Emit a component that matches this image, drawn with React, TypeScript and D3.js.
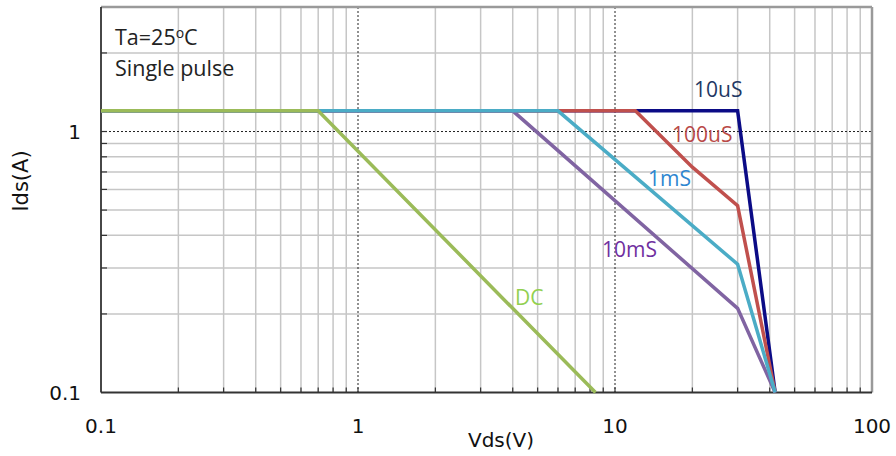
import React from 'react';
import * as d3 from 'd3';

// safe operating area curves, Vds (V) / Ids (A)
const dcV = [0.1, 0.7, 8.4];
const dcI = [1.2, 1.2, 0.1];
const ms10V = [0.1, 4, 30, 42];
const ms10I = [1.2, 1.2, 0.21, 0.1];
const ms1V = [0.1, 6, 30, 42];
const ms1I = [1.2, 1.2, 0.31, 0.1];
const us100V = [0.1, 12, 20, 30, 42];
const us100I = [1.2, 1.2, 0.73, 0.52, 0.1];
const us10V = [0.1, 30, 42];
const us10I = [1.2, 1.2, 0.1];

const xTickLabels = ['0.1', '1', '10', '100'];
const yTickLabels = ['0.1', '1'];

const W = 896;
const H = 456;

const x = d3.scaleLog().domain([0.1, 100]).range([101, 872]);
const y = d3.scaleLog().domain([0.1, 3]).range([392.5, 7]);

const xMinor: number[] = [];
[0.1, 1, 10].forEach(d => {
  for (let k = 2; k <= 9; k++) xMinor.push(d * k);
});
const yMinor = [0.2, 0.3, 0.4, 0.5, 0.6, 0.7, 0.8, 0.9, 2];

const series = [
  { name: '10uS', v: us10V, i: us10I, color: '#0b0b86' },
  { name: '100uS', v: us100V, i: us100I, color: '#c0504d' },
  { name: '10mS', v: ms10V, i: ms10I, color: '#8064a2' },
  { name: '1mS', v: ms1V, i: ms1I, color: '#4bacc6' },
  { name: 'DC', v: dcV, i: dcI, color: '#9bbb59' },
];

const labels = [
  { text: '10uS', x: 694, y: 97, color: '#1f3864' },
  { text: '100uS', x: 672, y: 142, color: '#b94a48' },
  { text: '1mS', x: 648, y: 186, color: '#2e86d0' },
  { text: '10mS', x: 602, y: 257, color: '#7030a0' },
  { text: 'DC', x: 515, y: 305, color: '#92d050' },
];

const line = d3
  .line<[number, number]>()
  .x(d => x(d[0]))
  .y(d => y(d[1]));

export default function App() {
  const [x0, x1] = x.range();
  const [y0, y1] = y.range();
  const axisFont = '"DejaVu Sans", Verdana, sans-serif';
  const noteFont = '"Open Sans", "Noto Sans", sans-serif';

  return (
    <svg
      width={W}
      height={H}
      style={{ position: 'absolute', left: 0, top: 0, background: '#fff' }}
    >
      {/* minor grid */}
      {xMinor.map(d => (
        <line key={'gx' + d} x1={x(d)} x2={x(d)} y1={y1} y2={y0} stroke="#c6c6c6" strokeWidth={1.5} />
      ))}
      {yMinor.map(d => (
        <line key={'gy' + d} x1={x0} x2={x1} y1={y(d)} y2={y(d)} stroke="#c6c6c6" strokeWidth={1.5} />
      ))}
      {/* major grid, dotted */}
      {[1, 10].map(d => (
        <line key={'mx' + d} x1={x(d)} x2={x(d)} y1={y1} y2={y0} stroke="#222" strokeWidth={1} strokeDasharray="2,2" />
      ))}
      <line x1={x0} x2={x1} y1={y(1)} y2={y(1)} stroke="#222" strokeWidth={1} strokeDasharray="2,2" />

      {/* inward ticks */}
      {xMinor.concat([1, 10]).map(d => (
        <line key={'tx' + d} x1={x(d)} x2={x(d)} y1={y0} y2={y0 - 5} stroke="#333" strokeWidth={1.2} />
      ))}
      {yMinor.concat([1]).map(d => (
        <line key={'ty' + d} x1={x0} x2={x0 + 6} y1={y(d)} y2={y(d)} stroke="#333" strokeWidth={1.2} />
      ))}

      {/* frame */}
      <line x1={x0} x2={x1} y1={y1} y2={y1} stroke="#9a9a9a" strokeWidth={2.5} />
      <line x1={x1} x2={x1} y1={y1} y2={y0} stroke="#9a9a9a" strokeWidth={2.5} />
      <line x1={x0} x2={x0} y1={y1} y2={y0} stroke="#333" strokeWidth={1.8} />
      <line x1={x0} x2={x1} y1={y0} y2={y0} stroke="#333" strokeWidth={1.8} />

      {/* curves */}
      {series.map(s => (
        <path
          key={s.name}
          d={line(s.v.map((v, k) => [v, s.i[k]] as [number, number])) || ''}
          fill="none"
          stroke={s.color}
          strokeWidth={3.5}
          strokeLinejoin="miter"
        />
      ))}

      {labels.map(l => (
        <text key={l.text} x={l.x} y={l.y} fill={l.color} fontFamily={noteFont} fontSize={21}>
          {l.text}
        </text>
      ))}

      {/* notes */}
      <text x={115} y={44.5} fill="#222" fontFamily={noteFont} fontSize={21.5}>
        Ta=25
        <tspan fontSize={14} dy={-7}>o</tspan>
        <tspan dy={7}>C</tspan>
      </text>
      <text x={115} y={75.5} fill="#222" fontFamily={noteFont} fontSize={21.5}>
        Single pulse
      </text>

      {/* tick labels */}
      {xTickLabels.map(t => (
        <text key={'xl' + t} x={x(+t)} y={433} textAnchor="middle" fontFamily={axisFont} fontSize={20} fill="#111">
          {t}
        </text>
      ))}
      {yTickLabels.map(t => (
        <text key={'yl' + t} x={81} y={y(+t)} dy="0.36em" textAnchor="end" fontFamily={axisFont} fontSize={20} fill="#111">
          {t}
        </text>
      ))}

      <text x={501} y={447} textAnchor="middle" fontFamily={axisFont} fontSize={20} fill="#111">
        Vds(V)
      </text>
      <text
        transform={`translate(28,181) rotate(-90)`}
        textAnchor="middle"
        fontFamily={axisFont}
        fontSize={21}
        fill="#111"
      >
        Ids(A)
      </text>
    </svg>
  );
}
